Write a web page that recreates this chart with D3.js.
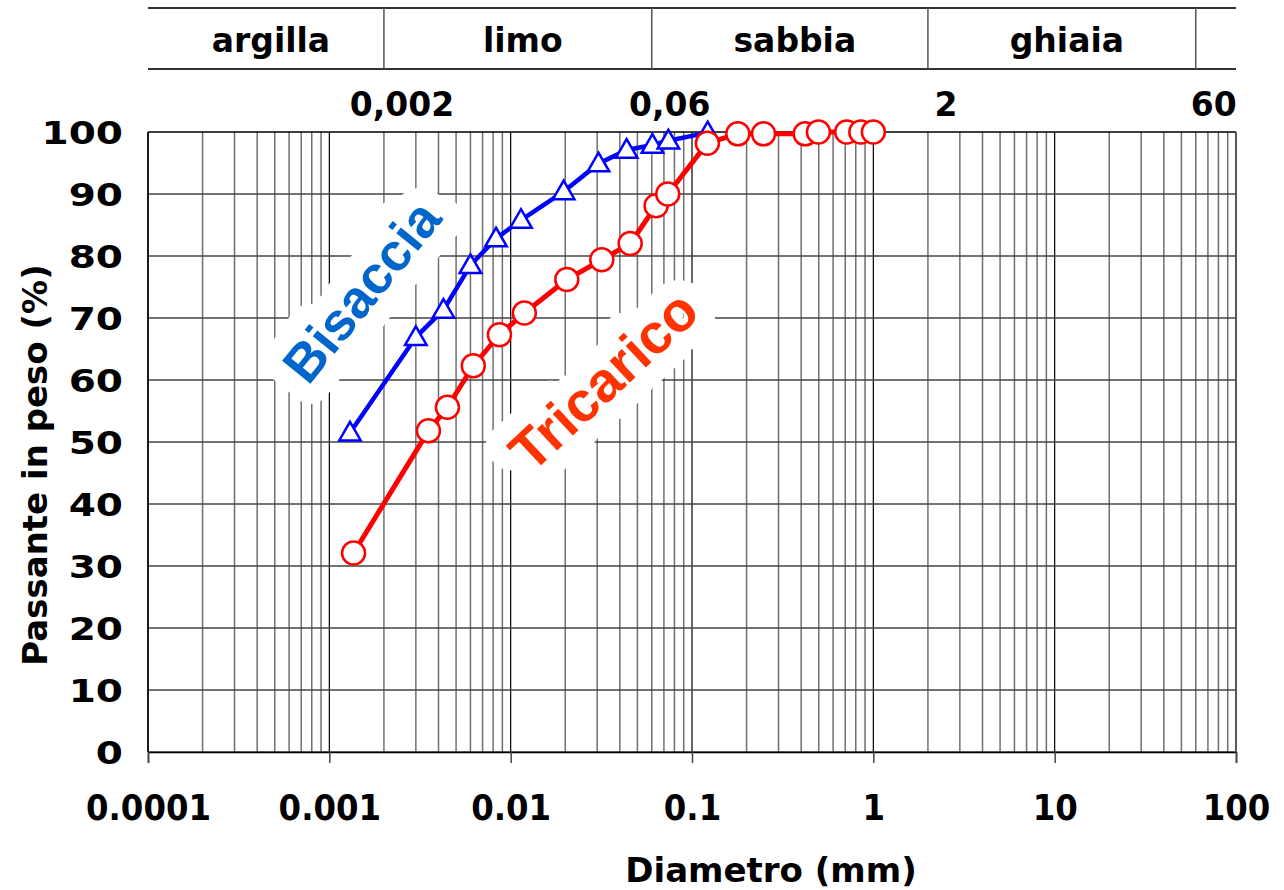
<!DOCTYPE html>
<html>
<head>
<meta charset="utf-8">
<script src="https://cdn.jsdelivr.net/npm/d3@7"></script>
<style>
  body { margin: 0; background: #fff; }
  text { font-family: "DejaVu Sans", Verdana, sans-serif; font-weight: bold; }
</style>
</head>
<body>
<div id="graf"></div>
<script>
// granulometric curves
let bisacciaD = [0.0013, 0.0030, 0.00426, 0.0060, 0.0083, 0.0114, 0.0196, 0.0305, 0.0436, 0.0605, 0.0741, 0.122];
let bisacciaP = [51.5, 66.9, 71.3, 78.5, 82.8, 85.8, 90.4, 94.9, 97.1, 97.9, 98.6, 99.9];

let tricaricoD = [0.00136, 0.00352, 0.00448, 0.00622, 0.00867, 0.0119, 0.0204, 0.0318, 0.0456, 0.0634, 0.0735, 0.1216, 0.179, 0.248, 0.421, 0.498, 0.713, 0.853, 1.0];
let tricaricoP = [32.1, 51.8, 55.6, 62.3, 67.3, 70.8, 76.2, 79.4, 82.0, 88.1, 90.0, 98.2, 99.7, 99.7, 99.7, 100, 100, 100, 100];

// soil classes (top band)
let classNames = ["argilla", "limo", "sabbia", "ghiaia"];
let classLimits = [0.0001, 0.002, 0.06, 2, 60];
let limitLabels = ["0,002", "0,06", "2", "60"];

let xTicks = [0.0001, 0.001, 0.01, 0.1, 1, 10, 100];
let xTickLabels = ["0.0001", "0.001", "0.01", "0.1", "1", "10", "100"];
let yTicks = [0, 10, 20, 30, 40, 50, 60, 70, 80, 90, 100];

let width = 1284, height = 890;
let x = d3.scaleLog().domain([0.0001, 100]).range([148, 1236]);
let y = d3.scaleLinear().domain([0, 100]).range([752, 132]);

let svg = d3.select("#graf").append("svg")
    .attr("width", width)
    .attr("height", height);

// minor / major vertical grid
let minors = [];
for (let e = -4; e < 2; e++) for (let m = 2; m <= 9; m++) minors.push(m * Math.pow(10, e));

const grid = svg.append("g");
grid.selectAll("line.minor")
    .data(minors)
    .join("line")
    .attr("x1", d => x(d)).attr("x2", d => x(d))
    .attr("y1", y(0)).attr("y2", y(100))
    .attr("stroke", "#707070")
    .attr("stroke-width", 1.5);

grid.selectAll("line.major")
    .data(xTicks)
    .join("line")
    .attr("x1", d => x(d)).attr("x2", d => x(d))
    .attr("y1", y(0)).attr("y2", y(100))
    .attr("stroke", "#000")
    .attr("stroke-width", 1.2);

grid.selectAll("line.h")
    .data(yTicks)
    .join("line")
    .attr("x1", x(0.0001)).attr("x2", x(100))
    .attr("y1", d => y(d)).attr("y2", d => y(d))
    .attr("stroke", d => d == 100 ? "#000" : "#444")
    .attr("stroke-width", 1.5);

// curve labels with white halo
let labels = [
    {name: "Bisaccia", color: "#0066cc", cx: 361, cy: 291, angle: -51, size: 53},
    {name: "Tricarico", color: "#ff3300", cx: 603, cy: 380, angle: -43, size: 56}
];
svg.append("g").selectAll("text")
    .data(labels)
    .join("text")
    .attr("transform", d => `translate(${d.cx},${d.cy}) rotate(${d.angle})`)
    .attr("text-anchor", "middle")
    .attr("dy", "0.36em")
    .style("font-family", "'Liberation Sans', Arial, sans-serif")
    .style("font-size", d => d.size + "px")
    .attr("fill", d => d.color)
    .attr("stroke", "#fff")
    .attr("stroke-width", 40)
    .attr("stroke-linejoin", "round")
    .attr("paint-order", "stroke")
    .text(d => d.name);

// x axis
const xAxis = svg.append("g")
    .attr("transform", `translate(0,${y(0)})`)
    .call(d3.axisBottom(x).tickValues(xTicks).tickSize(11).tickFormat((d, i) => xTickLabels[i]));
xAxis.select(".domain").attr("stroke", "#000").attr("stroke-width", 1.5);
xAxis.selectAll(".tick line").attr("stroke", "#444").attr("stroke-width", 1.5);
xAxis.selectAll(".tick text")
    .attr("y", 0).attr("dy", 0)
    .attr("transform", "translate(0,68)")
    .style("font-size", "36px")
    .style("font-family", "'DejaVu Sans Condensed', 'DejaVu Sans', sans-serif")
    .style("font-stretch", "condensed")
    .attr("fill", "#000");

// y axis labels (a bit wider, as in the original)
svg.append("g").selectAll("text")
    .data(yTicks)
    .join("text")
    .attr("transform", d => `translate(123,${y(d)}) scale(1.22,1)`)
    .attr("dy", "0.36em")
    .attr("text-anchor", "end")
    .style("font-size", "32px")
    .text(d => d);

// left / right border
svg.append("line").attr("x1", x(0.0001)).attr("x2", x(0.0001)).attr("y1", y(0)).attr("y2", y(100)).attr("stroke", "#000").attr("stroke-width", 1.5);
svg.append("line").attr("x1", x(100)).attr("x2", x(100)).attr("y1", y(0)).attr("y2", y(100)).attr("stroke", "#555").attr("stroke-width", 1.5);

// series
let series = [
    {d: bisacciaD, p: bisacciaP, color: "#0000ff", lw: 4.5, marker: "triangle"},
    {d: tricaricoD, p: tricaricoP, color: "#ff0000", lw: 5, marker: "circle"}
];
let line = d3.line().x(d => x(d[0])).y(d => y(d[1]));
series.forEach(s => {
    const pts = s.d.map((v, i) => [v, s.p[i]]);
    const g = svg.append("g");
    g.append("path")
        .attr("d", line(pts))
        .attr("fill", "none")
        .attr("stroke", s.color)
        .attr("stroke-width", s.lw)
        .attr("stroke-linejoin", "round");
    const sym = s.marker == "circle"
        ? d3.symbol().type(d3.symbolCircle).size(Math.PI * 11.5 * 11.5)
        : d3.symbol().type(d3.symbolTriangle).size(200);
    g.selectAll("path.m")
        .data(pts)
        .join("path")
        .attr("transform", d => `translate(${x(d[0])},${y(d[1]) + (s.marker == "triangle" ? 1.5 : 0)})`)
        .attr("d", sym)
        .attr("fill", "#fff")
        .attr("stroke", s.color)
        .attr("stroke-width", 2.5);
});

// top band with soil classes
const band = svg.append("g");
band.selectAll("line.hb")
    .data([8, 69])
    .join("line")
    .attr("x1", x(0.0001)).attr("x2", x(100))
    .attr("y1", d => d).attr("y2", d => d)
    .attr("stroke", "#333").attr("stroke-width", 2);
band.selectAll("line.vb")
    .data(classLimits.slice(1))
    .join("line")
    .attr("x1", d => x(d)).attr("x2", d => x(d))
    .attr("y1", 8).attr("y2", 69)
    .attr("stroke", "#555").attr("stroke-width", 1.5);
band.selectAll("text.cls")
    .data(classNames)
    .join("text")
    .attr("x", (d, i) => (x(classLimits[i]) + x(classLimits[i + 1])) / 2 + 5)
    .attr("y", 52)
    .attr("text-anchor", "middle")
    .style("font-size", "33px")
    .text(d => d);
band.selectAll("text.lim")
    .data(limitLabels)
    .join("text")
    .attr("x", (d, i) => x(classLimits[i + 1]) + 18)
    .attr("y", 116)
    .attr("text-anchor", "middle")
    .style("font-size", "33px")
    .text(d => d);

// axis titles
svg.append("text")
    .attr("x", 771).attr("y", 882)
    .attr("text-anchor", "middle")
    .style("font-size", "34px")
    .text("Diametro (mm)");
svg.append("text")
    .attr("transform", "translate(47,465) rotate(-90)")
    .attr("text-anchor", "middle")
    .style("font-size", "34px")
    .text("Passante in peso (%)");
</script>
</body>
</html>
